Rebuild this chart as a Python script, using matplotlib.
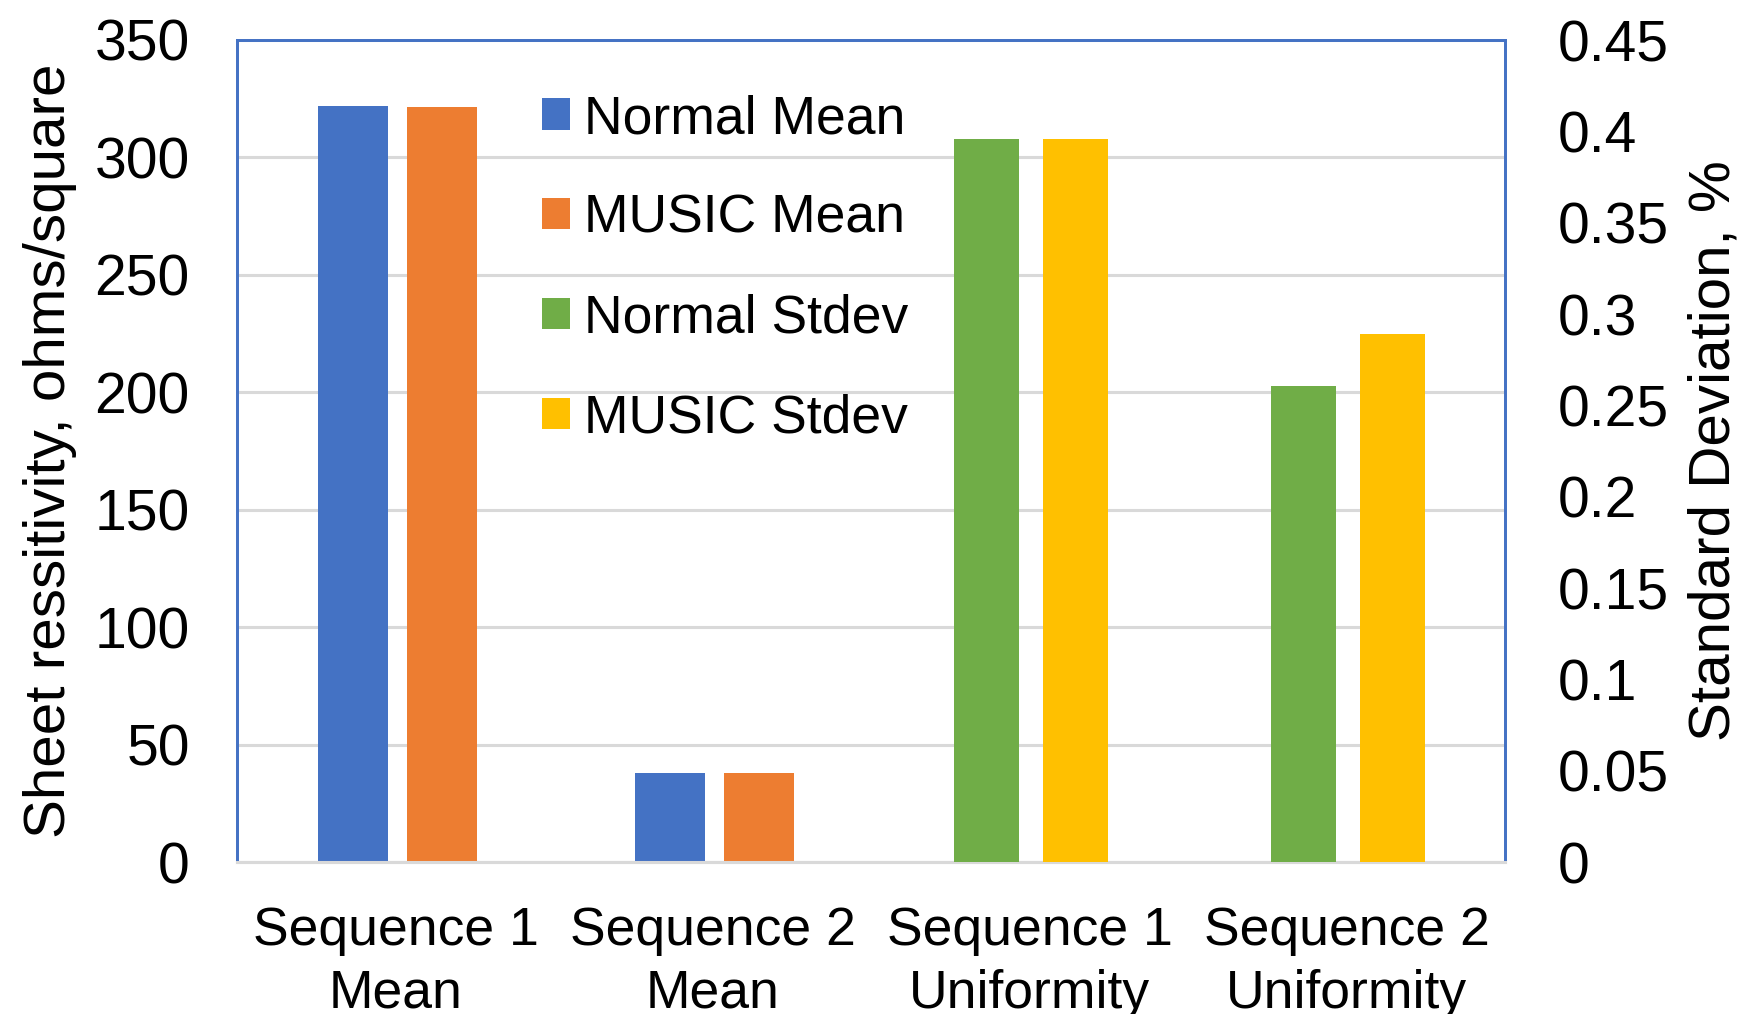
import matplotlib
matplotlib.use("Agg")
import matplotlib.pyplot as plt
import numpy as np

plt.rcParams['font.family'] = ['Liberation Sans', 'DejaVu Sans']

# Categories along the x axis
categories = ["Sequence 1\nMean", "Sequence 2\nMean",
              "Sequence 1\nUniformity", "Sequence 2\nUniformity"]

# Sheet resistivity means (left axis), shown for the two "Mean" categories
mean_idx = [0, 1]
normal_mean = [322.0, 37.8]
music_mean = [321.6, 38.0]

# Standard deviations in % (right axis), shown for the two "Uniformity" categories
stdev_idx = [2, 3]
normal_stdev = [0.396, 0.2605]
music_stdev = [0.396, 0.289]

left_ticks = [0, 50, 100, 150, 200, 250, 300, 350]
right_ticks = [0, 0.05, 0.1, 0.15, 0.2, 0.25, 0.3, 0.35, 0.4, 0.45]
right_tick_labels = ["0", "0.05", "0.1", "0.15", "0.2", "0.25", "0.3", "0.35", "0.4", "0.45"]

BLUE = "#4472C4"
ORANGE = "#ED7D31"
GREEN = "#70AD47"
GOLD = "#FFC000"
GRID = "#D9D9D9"
FS_TICK = 41
FS_CAT = 38.5
FS_LEG = 38.5
FS_LABEL = 42

fig = plt.figure(figsize=(17.4, 10.14), dpi=100)
ax = fig.add_axes([237 / 1740, 1 - 862 / 1014, (1505 - 237) / 1740, (862 - 40) / 1014])
ax2 = ax.twinx()

x_mean = np.array(mean_idx, dtype=float)
x_std = np.array(stdev_idx, dtype=float)

b1 = ax.bar(x_mean - 0.135, normal_mean, width=0.222, color=BLUE, label="Normal Mean", zorder=3)
b2 = ax.bar(x_mean + 0.146, music_mean, width=0.222, color=ORANGE, label="MUSIC Mean", zorder=3)
b3 = ax2.bar(x_std - 0.135, normal_stdev, width=0.205, color=GREEN, label="Normal Stdev", zorder=3)
b4 = ax2.bar(x_std + 0.144, music_stdev, width=0.205, color=GOLD, label="MUSIC Stdev", zorder=3)

ax.set_xlim(-0.5, 3.5)
ax.set_ylim(0, 350)
ax2.set_ylim(0, 0.45)

ax.set_yticks(left_ticks)
ax.set_yticklabels([str(t) for t in left_ticks])
ax2.set_yticks(right_ticks)
ax2.set_yticklabels(right_tick_labels)
ax.set_xticks(range(len(categories)))
ax.set_xticklabels(categories, linespacing=1.33)

ax.tick_params(axis='y', length=0, labelsize=FS_TICK, pad=34)
ax2.tick_params(axis='y', length=0, labelsize=FS_TICK, pad=38)
ax.tick_params(axis='x', length=0, labelsize=FS_CAT, pad=31.5)

ax.set_axisbelow(True)
ax.yaxis.grid(True, color=GRID, linewidth=2.2)
ax.xaxis.grid(False)

for a in (ax, ax2):
    for side in ("top", "left", "right"):
        a.spines[side].set_color(BLUE)
        a.spines[side].set_linewidth(2.0)
    a.spines["bottom"].set_color(GRID)
    a.spines["bottom"].set_linewidth(2.2)

ax.set_ylabel("Sheet ressitivity, ohms/square", fontsize=FS_LABEL, rotation=90, va='center')
ax.yaxis.set_label_coords(-0.1475, 0.5)
ax2.set_ylabel("Standard Deviation, %", fontsize=FS_LABEL, rotation=90, va='center')
ax2.yaxis.set_label_coords(1.1654, 0.5)

handles = [b1, b2, b3, b4]
fig.legend(handles, [h.get_label() for h in handles],
           loc='upper left', bbox_to_anchor=(542 / 1740, 1 - 94 / 1014),
           frameon=False, fontsize=FS_LEG, borderpad=0, borderaxespad=0,
           handlelength=0.52, handleheight=0.52, handletextpad=0.26,
           labelspacing=0.93)

fig.savefig("out.png", dpi=100)
